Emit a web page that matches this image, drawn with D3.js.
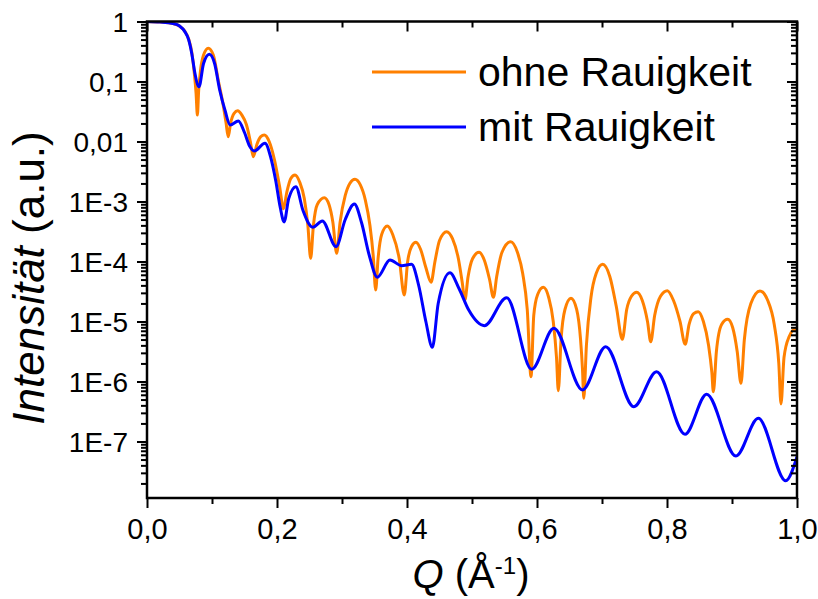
<!DOCTYPE html>
<html>
<head>
<meta charset="utf-8">
<script src="https://cdn.jsdelivr.net/npm/d3@7"></script>
<style>
  html, body { margin: 0; padding: 0; background: #fff; }
  svg { display: block; font-family: "Liberation Sans", Arial, Helvetica, sans-serif; }
</style>
</head>
<body>
<svg id="chart" width="818" height="599"></svg>
<script>
// Reflectivity curves: Q in 1/Å, intensity given as log10 values
const qOhne = [0, 0.02, 0.04, 0.05, 0.058, 0.064, 0.069, 0.073, 0.0755, 0.0775, 0.0795, 0.0825, 0.087, 0.0943,
  0.102, 0.110, 0.117, 0.1215, 0.125, 0.1285, 0.134, 0.1395,
  0.146, 0.153, 0.159, 0.1636, 0.169, 0.175, 0.1805,
  0.188, 0.196, 0.204, 0.210, 0.215, 0.221, 0.2277,
  0.235, 0.242, 0.2475, 0.2518, 0.256, 0.262, 0.2728,
  0.280, 0.286, 0.2918, 0.297, 0.305, 0.312, 0.320,
  0.328, 0.336, 0.343, 0.348, 0.3518, 0.3555, 0.361, 0.3697,
  0.378, 0.388, 0.3958, 0.401, 0.407, 0.4138,
  0.421, 0.429, 0.437, 0.443, 0.450, 0.461,
  0.470, 0.479, 0.485, 0.489, 0.494, 0.501, 0.5108,
  0.519, 0.527, 0.533, 0.538, 0.546, 0.5595,
  0.570, 0.578, 0.585, 0.5908, 0.595, 0.601, 0.6097,
  0.618, 0.625, 0.630, 0.6328, 0.637, 0.643, 0.6523,
  0.661, 0.667, 0.670, 0.672, 0.676, 0.683, 0.691, 0.701,
  0.712, 0.722, 0.7313, 0.738, 0.7453, 0.7533,
  0.762, 0.770, 0.775, 0.781, 0.790, 0.8005,
  0.810, 0.820, 0.828, 0.834, 0.841, 0.848,
  0.856, 0.864, 0.869, 0.8713, 0.876, 0.884, 0.8934,
  0.901, 0.908, 0.9138, 0.919, 0.929, 0.943,
  0.955, 0.965, 0.972, 0.9754, 0.980, 0.988, 0.997, 1.0];
const lgOhne = [0, -0.010, -0.035, -0.075, -0.160, -0.290, -0.520, -0.880, -1.200, -1.560, -1.150, -0.800, -0.560, -0.447,
  -0.560, -1.000, -1.380, -1.680, -1.920, -1.700, -1.530, -1.487,
  -1.560, -1.720, -2.000, -2.253, -2.050, -1.920, -1.892,
  -2.000, -2.300, -2.750, -3.120, -2.850, -2.620, -2.558,
  -2.680, -2.950, -3.400, -3.947, -3.400, -3.050, -2.937,
  -3.050, -3.350, -3.864, -3.350, -2.900, -2.700, -2.630,
  -2.720, -2.980, -3.400, -3.900, -4.475, -3.950, -3.550, -3.408,
  -3.550, -3.950, -4.558, -4.000, -3.750, -3.680,
  -3.800, -4.100, -4.347, -4.000, -3.650, -3.503,
  -3.620, -3.950, -4.350, -4.642, -4.250, -3.950, -3.847,
  -3.980, -4.300, -4.597, -4.250, -3.850, -3.670,
  -3.850, -4.200, -4.800, -5.920, -4.900, -4.550, -4.430,
  -4.600, -5.000, -5.600, -6.153, -5.300, -4.800, -4.613,
  -4.800, -5.300, -5.800, -6.280, -5.400, -4.600, -4.200, -4.047,
  -4.250, -4.750, -5.297, -4.800, -4.580, -4.513,
  -4.650, -5.000, -5.337, -4.900, -4.580, -4.487,
  -4.650, -5.000, -5.380, -5.050, -4.870, -4.837,
  -5.000, -5.400, -5.850, -6.170, -5.500, -5.050, -4.963,
  -5.100, -5.500, -6.030, -5.300, -4.700, -4.490,
  -4.650, -5.050, -5.700, -6.375, -5.600, -5.250, -5.130, -5.140];

const qMit = [0, 0.02, 0.04, 0.05, 0.058, 0.064, 0.069, 0.0735, 0.080, 0.087, 0.0959,
  0.104, 0.112, 0.120, 0.128, 0.1405, 0.150, 0.158, 0.165, 0.1815,
  0.190, 0.198, 0.205, 0.211, 0.218, 0.229, 0.240, 0.255, 0.2697, 0.2908,
  0.305, 0.319, 0.330, 0.342, 0.3543, 0.3738, 0.3918, 0.407, 0.418, 0.429, 0.439,
  0.448, 0.466, 0.480, 0.495, 0.519, 0.5533, 0.5918, 0.626, 0.670, 0.7057,
  0.749, 0.784, 0.8277, 0.861, 0.906, 0.9405, 0.9826, 1.0];
const lgMit = [0, -0.010, -0.035, -0.075, -0.165, -0.300, -0.540, -0.850, -1.087, -0.700, -0.547,
  -0.700, -1.150, -1.480, -1.725, -1.658, -1.850, -2.080, -2.158, -2.030,
  -2.250, -2.650, -3.100, -3.340, -2.950, -2.753, -3.150, -3.430, -3.325, -3.753,
  -3.300, -3.042, -3.350, -3.900, -4.263, -3.975, -4.070, -4.047, -4.400, -5.000, -5.430,
  -4.700, -4.187, -4.450, -4.810, -5.070, -4.603, -5.797, -5.113, -6.140, -5.420,
  -6.420, -5.837, -6.880, -6.213, -7.242, -6.613, -7.653, -7.253];

const seriesNames = ["ohne Rauigkeit", "mit Rauigkeit"];
const seriesColors = ["#ff8000", "#0000ff"];

const yMajor = [1, 1e-1, 1e-2, 1e-3, 1e-4, 1e-5, 1e-6, 1e-7];
const yLabels = ["1", "0,1", "0,01", "1E-3", "1E-4", "1E-5", "1E-6", "1E-7"];
const xMajor = [0, 0.2, 0.4, 0.6, 0.8, 1.0];
const xLabels = ["0,0", "0,2", "0,4", "0,6", "0,8", "1,0"];
const xMinor = [0.1, 0.3, 0.5, 0.7, 0.9];

const svg = d3.select("#chart");
const L = 147, R = 797, T = 21.5, B = 498;

const x = d3.scaleLinear().domain([0, 1]).range([L, R]);
const y = d3.scaleLog().domain([1.143e-8, 1]).range([B, T]);

// minor decade ticks 2..9
const yMinor = [];
for (let e = -8; e <= -1; e++) {
  for (let m = 2; m <= 9; m++) {
    const v = m * Math.pow(10, e);
    if (v >= y.domain()[0] && v <= 1) yMinor.push(v);
  }
}

svg.append("defs").append("clipPath").attr("id", "plotclip")
  .append("rect").attr("x", L).attr("y", T).attr("width", R - L).attr("height", B - T);

const line = d3.line()
  .x(d => x(d[0]))
  .y(d => y(Math.pow(10, d[1])))
  .curve(d3.curveMonotoneX);

const ohne = qOhne.map((q, i) => [q, lgOhne[i]]);
const mit = qMit.map((q, i) => [q, lgMit[i]]);

const plot = svg.append("g").attr("clip-path", "url(#plotclip)");
[ohne, mit].forEach((data, i) => {
  plot.append("path")
    .datum(data)
    .attr("fill", "none")
    .attr("stroke", seriesColors[i])
    .attr("stroke-width", 3)
    .attr("stroke-linejoin", "round")
    .attr("d", line);
});

function styleAxis(g) {
  g.select(".domain").remove();
  g.selectAll(".tick line").attr("stroke", "#000").attr("stroke-width", 2);
  g.selectAll(".tick text").attr("fill", "#000");
}

// left axis
svg.append("g").attr("transform", `translate(${L},0)`)
  .call(d3.axisLeft(y).tickValues(yMajor).tickSize(10).tickPadding(9)
    .tickFormat((d, i) => yLabels[i]))
  .call(styleAxis)
  .call(g => g.selectAll(".tick text").style("font-size", "28px").attr("dy", "0.36em"));
svg.append("g").attr("transform", `translate(${L},0)`)
  .call(d3.axisLeft(y).tickValues(yMinor).tickSize(6).tickFormat(""))
  .call(styleAxis);

// right axis (ticks pointing inward)
svg.append("g").attr("transform", `translate(${R},0)`)
  .call(d3.axisRight(y).tickValues(yMajor).tickSize(-10).tickFormat(""))
  .call(styleAxis);
svg.append("g").attr("transform", `translate(${R},0)`)
  .call(d3.axisRight(y).tickValues(yMinor).tickSize(-6).tickFormat(""))
  .call(styleAxis);

// bottom axis
svg.append("g").attr("transform", `translate(0,${B})`)
  .call(d3.axisBottom(x).tickValues(xMajor).tickSize(10).tickPadding(10)
    .tickFormat((d, i) => xLabels[i]))
  .call(styleAxis)
  .call(g => g.selectAll(".tick text").style("font-size", "29px"));
svg.append("g").attr("transform", `translate(0,${B})`)
  .call(d3.axisBottom(x).tickValues(xMinor).tickSize(6).tickFormat(""))
  .call(styleAxis);

// top axis (ticks pointing inward)
svg.append("g").attr("transform", `translate(0,${T})`)
  .call(d3.axisTop(x).tickValues(xMajor).tickSize(-10).tickFormat(""))
  .call(styleAxis);
svg.append("g").attr("transform", `translate(0,${T})`)
  .call(d3.axisTop(x).tickValues(xMinor).tickSize(-6).tickFormat(""))
  .call(styleAxis);

// frame
svg.append("rect")
  .attr("x", L).attr("y", T).attr("width", R - L).attr("height", B - T)
  .attr("fill", "none").attr("stroke", "#000").attr("stroke-width", 2.5);

// axis titles
const yTitle = svg.append("text")
  .attr("transform", "translate(44,278) rotate(-90)")
  .attr("text-anchor", "middle")
  .style("font-size", "44px");
yTitle.append("tspan").style("font-style", "italic").text("Intensität");
yTitle.append("tspan").text(" (a.u.)");

const xTitle = svg.append("text")
  .attr("x", 471).attr("y", 588)
  .attr("text-anchor", "middle")
  .style("font-size", "40px");
xTitle.append("tspan").style("font-style", "italic").text("Q");
xTitle.append("tspan").text(" (Å");
xTitle.append("tspan").attr("dy", "-14").style("font-size", "24px").text("-1");
xTitle.append("tspan").attr("dy", "14").text(")");

// legend
const legendY = [72, 127];
seriesNames.forEach((name, i) => {
  svg.append("line")
    .attr("x1", 372).attr("x2", 466)
    .attr("y1", legendY[i]).attr("y2", legendY[i])
    .attr("stroke", seriesColors[i]).attr("stroke-width", 3);
  svg.append("text")
    .attr("x", 478).attr("y", legendY[i] + 14)
    .style("font-size", "41px")
    .text(name);
});
</script>
</body>
</html>
